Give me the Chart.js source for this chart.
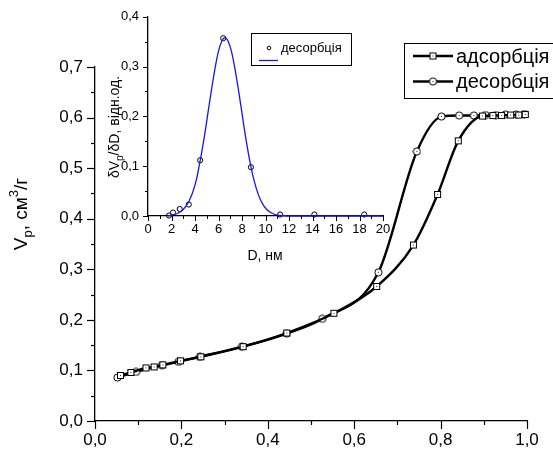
<!DOCTYPE html>
<html>
<head>
<meta charset="utf-8">
<script src="https://cdn.jsdelivr.net/npm/chart.js@4.4.1/dist/chart.umd.min.js"></script>
<style>
    html, body { margin: 0; padding: 0; background: #fff; }
    #wrap { position: relative; width: 553px; height: 452px; overflow: hidden; }
    #main, #inset { position: absolute; left: 0; top: 0; }
</style>
</head>
<body>
<div id="wrap">
    <canvas id="main" width="553" height="452"></canvas>
    <canvas id="inset" width="400" height="265"></canvas>
</div>
<script>
// --- Isotherm (main plot): relative pressure vs pore volume, cm3/g ---
const adsP = [0.059, 0.083, 0.118, 0.137, 0.157, 0.198, 0.245, 0.343, 0.444, 0.553, 0.652, 0.737, 0.793, 0.841, 0.897, 0.921, 0.941, 0.962, 0.981, 0.996];
const adsV = [0.090, 0.096, 0.105, 0.107, 0.111, 0.119, 0.127, 0.147, 0.174, 0.213, 0.266, 0.348, 0.448, 0.554, 0.603, 0.604, 0.604, 0.605, 0.605, 0.606];
const desP = [0.052, 0.095, 0.155, 0.193, 0.243, 0.340, 0.444, 0.526, 0.656, 0.745, 0.802, 0.843, 0.877, 0.904, 0.928, 0.950, 0.975, 0.994];
const desV = [0.086, 0.097, 0.110, 0.117, 0.127, 0.147, 0.173, 0.202, 0.294, 0.533, 0.602, 0.604, 0.604, 0.605, 0.605, 0.606, 0.606, 0.607];

// --- Inset: pore size distribution from desorption branch ---
const psdD = [1.79, 2.13, 2.70, 3.47, 4.44, 6.40, 8.76, 11.24, 14.16, 18.40];
const psdV = [0.001, 0.007, 0.014, 0.023, 0.112, 0.357, 0.098, 0.003, 0.003, 0.003];
// blue fitted curve
const fitD = [1.7, 2.0, 2.5, 3.0, 3.5, 4.0, 4.4, 4.8, 5.2, 5.6, 6.0, 6.3, 6.55, 6.8, 7.1, 7.5, 7.9, 8.3, 8.7, 9.1, 9.6, 10.1, 10.6, 11.2, 12, 14, 16, 18, 20];
const fitV = [0.000, 0.002, 0.005, 0.013, 0.030, 0.062, 0.106, 0.160, 0.222, 0.282, 0.331, 0.352, 0.358, 0.352, 0.331, 0.282, 0.222, 0.160, 0.106, 0.065, 0.031, 0.013, 0.005, 0.001, 0, 0, 0, 0, 0];

// --- Tick labels ---
const mainXTicks = [0, 0.2, 0.4, 0.6, 0.8, 1.0];
const mainXLabels = ['0,0', '0,2', '0,4', '0,6', '0,8', '1,0'];
const mainYTicks = [0, 0.1, 0.2, 0.3, 0.4, 0.5, 0.6, 0.7];
const mainYLabels = ['0,0', '0,1', '0,2', '0,3', '0,4', '0,5', '0,6', '0,7'];
const insetXTicks = [0, 2, 4, 6, 8, 10, 12, 14, 16, 18, 20];
const insetXLabels = ['0', '2', '4', '6', '8', '10', '12', '14', '16', '18', '20'];
const insetYTicks = [0, 0.1, 0.2, 0.3, 0.4];
const insetYLabels = ['0,0', '0,1', '0,2', '0,3', '0,4'];

const FONT = "'Liberation Sans', Arial, sans-serif";

function toPoints(xs, ys) {
    return xs.map((x, i) => ({ x, y: ys[i] }));
}

function labelFor(ticks, labels) {
    return (value) => {
        const i = ticks.findIndex(t => Math.abs(t - value) < 1e-6);
        return i >= 0 ? labels[i] : '';
    };
}

// Origin-style markers: white fill, black outline, little dot in the middle
function makeMarker(shape) {
    const c = document.createElement('canvas');
    c.width = 9;
    c.height = 9;
    const g = c.getContext('2d');
    g.fillStyle = '#fff';
    g.strokeStyle = '#000';
    g.lineWidth = 1;
    if (shape === 'square') {
        g.fillRect(1, 1, 7, 7);
        g.strokeRect(1.5, 1.5, 6, 6);
    } else {
        g.beginPath();
        g.arc(4.5, 4.5, 3.6, 0, Math.PI * 2);
        g.fill();
        g.stroke();
    }
    g.fillStyle = '#333';
    g.fillRect(4, 4, 1, 1);
    return c;
}
const squareMarker = makeMarker('square');
const circleMarker = makeMarker('circle');

// Draw text made of parts, some of them sub/superscript, optionally rotated
function richText(ctx, x, y, parts, size, rotate) {
    ctx.save();
    ctx.translate(x, y);
    if (rotate) ctx.rotate(-Math.PI / 2);
    ctx.fillStyle = '#000';
    ctx.textBaseline = 'alphabetic';
    ctx.textAlign = 'left';
    const small = Math.round(size * 0.68);
    let total = 0;
    parts.forEach(p => {
        ctx.font = `${p.sub || p.sup ? small : size}px ${FONT}`;
        total += ctx.measureText(p.t).width;
    });
    let cx = -total / 2;
    parts.forEach(p => {
        ctx.font = `${p.sub || p.sup ? small : size}px ${FONT}`;
        const dy = p.sub ? size * 0.28 : p.sup ? -size * 0.45 : 0;
        ctx.fillText(p.t, cx, dy);
        cx += ctx.measureText(p.t).width;
    });
    ctx.restore();
}

// Major / minor tick marks pointing outward
const tickMarks = {
    id: 'tickMarks',
    afterDraw(chart, args, opts) {
        const ctx = chart.ctx;
        ctx.save();
        ctx.strokeStyle = '#000';
        ctx.lineWidth = opts.width;
        Object.values(chart.scales).forEach(scale => {
            const majors = opts.majors[scale.id];
            scale.ticks.forEach(t => {
                const major = majors.some(m => Math.abs(m - t.value) < 1e-6);
                const len = major ? opts.major : opts.minor;
                const p = Math.round(scale.getPixelForValue(t.value)) + 0.5;
                ctx.beginPath();
                if (scale.isHorizontal()) {
                    const y0 = chart.chartArea.bottom;
                    ctx.moveTo(p, y0);
                    ctx.lineTo(p, y0 + len);
                } else {
                    const x0 = chart.chartArea.left;
                    ctx.moveTo(x0, p);
                    ctx.lineTo(x0 - len, p);
                }
                ctx.stroke();
            });
        });
        ctx.restore();
    }
};

// Axis titles and legend box, drawn by hand
const decorations = {
    id: 'decorations',
    afterDraw(chart, args, opts) {
        opts.draw(chart.ctx, chart);
    }
};

function axisOpts(min, max, step, ticks, labels, size, pad, fit) {
    return {
        type: 'linear',
        min,
        max,
        ticks: {
            stepSize: step,
            autoSkip: false,
            maxRotation: 0,
            minRotation: 0,
            padding: pad,
            color: '#000',
            font: { family: FONT, size },
            callback: labelFor(ticks, labels)
        },
        grid: { drawOnChartArea: false, drawTicks: false },
        border: { color: '#000', width: 1.3 },
        afterFit: fit
    };
}

// --- Main chart ---
new Chart(document.getElementById('main'), {
    type: 'scatter',
    data: {
        datasets: [
            {
                label: 'адсорбція',
                data: toPoints(adsP, adsV),
                showLine: true,
                borderColor: '#000',
                borderWidth: 2.4,
                cubicInterpolationMode: 'monotone',
                pointStyle: squareMarker,
                pointRadius: 4,
                clip: false
            },
            {
                label: 'десорбція',
                data: toPoints(desP, desV),
                showLine: true,
                borderColor: '#000',
                borderWidth: 2.4,
                cubicInterpolationMode: 'monotone',
                pointStyle: circleMarker,
                pointRadius: 4,
                clip: false
            }
        ]
    },
    options: {
        responsive: false,
        animation: false,
        events: [],
        layout: { padding: { left: 0, right: 26, top: 67, bottom: 0 } },
        scales: {
            x: axisOpts(0, 1, 0.1, mainXTicks, mainXLabels, 17, 9, s => { s.height = 31; }),
            y: axisOpts(0, 0.7, 0.05, mainYTicks, mainYLabels, 17, 12, s => { s.width = 95; })
        },
        plugins: {
            legend: { display: false },
            tooltip: { enabled: false },
            tickMarks: { width: 1.2, major: 8, minor: 4, majors: { x: mainXTicks, y: mainYTicks } },
            decorations: {
                draw(ctx) {
                    richText(ctx, 27, 214, [
                        { t: 'V' }, { t: 'p', sub: true }, { t: ', см' }, { t: '3', sup: true }, { t: '/г' }
                    ], 19, true);

                    // legend box runs off the right edge, as in the original
                    ctx.save();
                    ctx.fillStyle = '#fff';
                    ctx.fillRect(404, 43, 170, 55);
                    ctx.strokeStyle = '#000';
                    ctx.lineWidth = 1;
                    ctx.strokeRect(404.5, 43.5, 170, 55);
                    [[56, squareMarker, 'адсорбція'], [81.5, circleMarker, 'десорбція']].forEach(([y, m, txt]) => {
                        ctx.lineWidth = 2.4;
                        ctx.beginPath();
                        ctx.moveTo(413, y);
                        ctx.lineTo(453, y);
                        ctx.stroke();
                        ctx.drawImage(m, 433 - 4.5, y - 4.5);
                        ctx.fillStyle = '#000';
                        ctx.font = `20px ${FONT}`;
                        ctx.textBaseline = 'middle';
                        ctx.fillText(txt, 456, y + 1);
                    });
                    ctx.restore();
                }
            }
        }
    },
    plugins: [tickMarks, decorations]
});

// --- Inset chart ---
new Chart(document.getElementById('inset'), {
    type: 'scatter',
    data: {
        datasets: [
            {
                label: 'fit',
                data: toPoints(fitD, fitV),
                showLine: true,
                borderColor: '#1515f0',
                borderWidth: 1.3,
                tension: 0.4,
                pointRadius: 0,
                clip: false
            },
            {
                label: 'десорбція',
                data: toPoints(psdD, psdV),
                showLine: false,
                pointStyle: 'circle',
                pointRadius: 2.6,
                borderColor: '#000',
                borderWidth: 1,
                backgroundColor: 'rgba(255,255,255,0)',
                clip: false
            }
        ]
    },
    options: {
        responsive: false,
        animation: false,
        events: [],
        layout: { padding: { left: 0, right: 17, top: 16, bottom: 0 } },
        scales: {
            x: axisOpts(0, 20, 1, insetXTicks, insetXLabels, 13, 6, s => { s.height = 49; }),
            y: axisOpts(0, 0.4, 0.05, insetYTicks, insetYLabels, 13, 9, s => { s.width = 148; })
        },
        plugins: {
            legend: { display: false },
            tooltip: { enabled: false },
            tickMarks: { width: 1, major: 5, minor: 3, majors: { x: insetXTicks, y: insetYTicks } },
            decorations: {
                draw(ctx) {
                    richText(ctx, 119, 127, [
                        { t: 'δV' }, { t: 'p', sub: true }, { t: '/δD, відн.од.' }
                    ], 14, true);
                    richText(ctx, 265, 260, [{ t: 'D, нм' }], 14, false);

                    ctx.save();
                    ctx.fillStyle = '#fff';
                    ctx.fillRect(251, 33, 100, 32);
                    ctx.strokeStyle = '#000';
                    ctx.lineWidth = 1;
                    ctx.strokeRect(251.5, 33.5, 100, 32);
                    ctx.beginPath();
                    ctx.arc(269, 48, 1.8, 0, Math.PI * 2);
                    ctx.stroke();
                    ctx.strokeStyle = '#1515f0';
                    ctx.lineWidth = 1.3;
                    ctx.beginPath();
                    ctx.moveTo(259, 60.5);
                    ctx.lineTo(278, 60.5);
                    ctx.stroke();
                    ctx.fillStyle = '#000';
                    ctx.font = `13px ${FONT}`;
                    ctx.textBaseline = 'middle';
                    ctx.fillText('десорбція', 281, 48);
                    ctx.restore();
                }
            }
        }
    },
    plugins: [tickMarks, decorations]
});
</script>
</body>
</html>
